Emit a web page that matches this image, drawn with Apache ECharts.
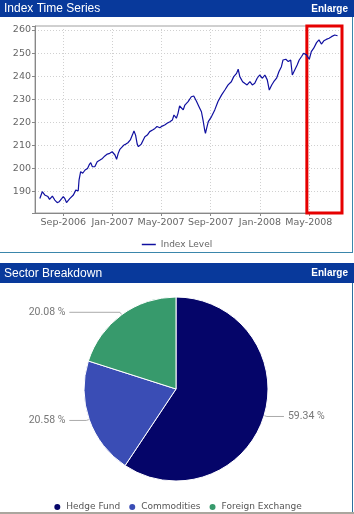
<!DOCTYPE html>
<html>
<head>
<meta charset="utf-8">
<script src="https://cdn.jsdelivr.net/npm/echarts@6/dist/echarts.min.js"></script>
<style>
html,body{margin:0;padding:0;background:#fff;}
#c{width:354px;height:514px;}
</style>
</head>
<body>
<div id="c"></div>
<script>
// ---- Index time series ----
const indexDates = [
'2006-07-05','2006-07-11','2006-07-17','2006-07-25','2006-07-29','2006-08-05','2006-08-11','2006-08-17','2006-08-22','2006-08-28',
'2006-09-01','2006-09-05','2006-09-09','2006-09-13','2006-09-17','2006-09-21','2006-09-26','2006-10-02','2006-10-08','2006-10-10',
'2006-10-14','2006-10-19','2006-10-25','2006-10-31','2006-11-04','2006-11-08','2006-11-12','2006-11-18','2006-11-24','2006-12-01',
'2006-12-07','2006-12-13','2006-12-19','2006-12-25','2006-12-31','2007-01-03','2007-01-07','2007-01-11','2007-01-15','2007-01-19',
'2007-01-23','2007-01-29','2007-02-03','2007-02-08','2007-02-14','2007-02-19','2007-02-23','2007-02-27','2007-03-03','2007-03-06',
'2007-03-09','2007-03-13','2007-03-18','2007-03-22','2007-03-28','2007-04-03','2007-04-10','2007-04-16','2007-04-21','2007-04-28',
'2007-05-04','2007-05-10','2007-05-16','2007-05-23','2007-05-29','2007-06-02','2007-06-08','2007-06-12','2007-06-16','2007-06-25',
'2007-06-29','2007-07-07','2007-07-15','2007-07-21','2007-07-28','2007-08-03','2007-08-09','2007-08-13','2007-08-17','2007-08-19',
'2007-08-22','2007-08-26','2007-09-03','2007-09-11','2007-09-19','2007-09-28','2007-10-06','2007-10-14','2007-10-22','2007-10-28',
'2007-11-04','2007-11-08','2007-11-12','2007-11-19','2007-11-24','2007-11-30','2007-12-07','2007-12-13','2007-12-19','2007-12-25',
'2007-12-31','2008-01-07','2008-01-13','2008-01-19','2008-01-24','2008-01-30','2008-02-04','2008-02-11','2008-02-17','2008-02-23',
'2008-02-27','2008-03-05','2008-03-11','2008-03-17','2008-03-21','2008-03-27','2008-04-02','2008-04-07','2008-04-13','2008-04-18',
'2008-04-25','2008-05-02','2008-05-07','2008-05-13','2008-05-20','2008-05-26','2008-06-01','2008-06-07','2008-06-13','2008-06-20',
'2008-06-26','2008-07-04','2008-07-11'
];
const indexValues = [
187.1,190.0,188.6,187.9,186.7,188.1,186.4,185.3,185.7,187.0,
187.9,187.0,185.3,185.7,187.0,186.4,188.6,190.7,190.4,195.0,
198.7,198.0,199.4,200.1,201.6,202.6,200.8,200.8,203.0,203.7,
204.4,205.5,206.3,206.6,207.3,207.8,205.9,204.0,206.6,208.3,
208.8,210.2,210.6,211.2,212.4,214.5,216.3,214.5,210.6,209.5,
210.2,210.6,212.4,213.8,214.5,216.0,216.7,217.4,218.2,217.7,
218.4,218.9,219.6,220.3,221.0,223.2,221.8,223.9,227.1,225.4,
227.5,229.0,231.1,231.4,229.0,226.8,224.6,221.0,216.7,215.3,
217.5,220.3,222.5,225.4,229.0,231.9,234.0,236.2,237.6,239.8,
241.2,243.0,239.8,237.6,236.9,236.2,237.6,236.2,236.9,239.1,
240.5,239.1,240.5,238.4,234.0,236.2,237.6,239.1,242.0,244.1,
247.0,247.3,246.3,247.0,240.5,242.7,244.8,247.0,248.5,249.9,
249.2,247.3,250.6,252.1,254.5,255.7,253.9,255.3,255.9,256.4,
257.1,257.8,257.5
];
const xTickDates = ['2006-09-01','2007-01-01','2007-05-01','2007-09-01','2008-01-01','2008-05-01'];
const xTickLabels = ['Sep-2006','Jan-2007','May-2007','Sep-2007','Jan-2008','May-2008'];
const yTickLabels = [190,200,210,220,230,240,250,260];
const xRange = ['2006-06-23','2008-07-22'];
const highlightRange = ['2008-04-26','2008-07-22'];

// ---- Sector breakdown ----
const sectorNames = ['Hedge Fund','Commodities','Foreign Exchange'];
const sectorValues = [59.34, 20.58, 20.08];
const sectorColors = ['#050569','#3a4db5','#379a6c'];

function ts(s){ const p=s.split('-'); return Date.UTC(+p[0], +p[1]-1, +p[2]); }
const tickTs = xTickDates.map(ts);
function labelFor(v){
  for (let i=0;i<tickTs.length;i++){ if (Math.abs(tickTs[i]-v) < 3600000) return xTickLabels[i]; }
  return '';
}

const lineData = indexDates.map((d,i)=>[ts(d), indexValues[i]]);

const chart = echarts.init(document.getElementById('c'), null, {renderer:'canvas'});
const headerBlue = '#08399b';
const axisFont = 'DejaVu Sans';

chart.setOption({
  animation:false,
  graphic:[
    {type:'rect', shape:{x:0,y:0,width:354,height:17}, style:{fill:headerBlue}},
    {type:'text', x:4, y:9, style:{text:'Index Time Series', fill:'#fff', font:'12px "Liberation Sans"', textVerticalAlign:'middle'}},
    {type:'text', x:348, y:9, style:{text:'Enlarge', fill:'#fff', font:'bold 10px "Liberation Sans"', textAlign:'right', textVerticalAlign:'middle'}},
    {type:'line', shape:{x1:352.5,y1:17,x2:352.5,y2:253}, style:{stroke:'#3a86ab', lineWidth:1}},
    {type:'line', shape:{x1:0,y1:252.5,x2:353,y2:252.5}, style:{stroke:'#3a86ab', lineWidth:1}},
    {type:'rect', shape:{x:0,y:263,width:354,height:20}, style:{fill:headerBlue}},
    {type:'text', x:4, y:273.5, style:{text:'Sector Breakdown', fill:'#fff', font:'12px "Liberation Sans"', textVerticalAlign:'middle'}},
    {type:'text', x:348, y:273.5, style:{text:'Enlarge', fill:'#fff', font:'bold 10px "Liberation Sans"', textAlign:'right', textVerticalAlign:'middle'}},
    {type:'line', shape:{x1:352.5,y1:283,x2:352.5,y2:512}, style:{stroke:'#2d6e9e', lineWidth:1}},
    {type:'rect', shape:{x:0,y:512,width:354,height:2}, style:{fill:'#aaa69e'}}
  ],
  legend:[
    {
      data:['Index Level'], left:'center', top:235,
      icon:'rect', itemWidth:14, itemHeight:1.5, itemGap:5,
      textStyle:{fontFamily:axisFont, fontSize:9, color:'#666', padding:[1,0,0,0]},
      selectedMode:false
    },
    {
      data:sectorNames, left:'center', top:500, padding:[2,5,2,5],
      icon:'circle', itemWidth:8, itemHeight:8, itemGap:7,
      textStyle:{fontFamily:axisFont, fontSize:9, color:'#555'},
      selectedMode:false
    }
  ],
  grid:{left:35, right:12, top:26, height:187, show:true, borderColor:'#a0a0a0', borderWidth:1, containLabel:false},
  xAxis:{
    type:'value',
    min:ts(xRange[0]), max:ts(xRange[1]),
    axisLine:{lineStyle:{color:'#888'}},
    axisTick:{show:true, customValues:tickTs, length:3, lineStyle:{color:'#888'}},
    axisLabel:{customValues:tickTs, margin:5, fontFamily:axisFont, fontSize:9.5, color:'#666',
      formatter:function(v){ return labelFor(v); }},
    splitLine:{show:true, lineStyle:{color:'#d0d0d0', type:[1,2]}}
  },
  yAxis:{
    type:'value', min:180.8, max:261.7, minInterval:10, maxInterval:10,
    axisLine:{show:true, lineStyle:{color:'#888'}},
    axisTick:{show:true, length:3, lineStyle:{color:'#888'}},
    axisLabel:{margin:4, fontFamily:axisFont, fontSize:9.5, color:'#666',
      formatter:function(v){ return yTickLabels.indexOf(Math.round(v*10)/10)>=0 ? String(v) : ''; }},
    splitLine:{show:true, lineStyle:{color:'#d0d0d0', type:[1,2]}}
  },
  series:[
    {
      name:'Index Level', type:'line', data:lineData, symbol:'none',
      lineStyle:{color:'#1010a0', width:1.2}, itemStyle:{color:'#1010a0'},
      markArea:{
        silent:true,
        itemStyle:{color:'rgba(0,0,0,0)', borderColor:'#e60000', borderWidth:3},
        data:[[{xAxis:ts(highlightRange[0])},{xAxis:ts(highlightRange[1])}]]
      }
    },
    {
      type:'pie', center:[176,389], radius:92, startAngle:90, clockwise:true,
      data:sectorNames.map((n,i)=>({name:n, value:sectorValues[i], itemStyle:{color:sectorColors[i]}})),
      itemStyle:{borderColor:'#fff', borderWidth:1},
      label:{show:true, formatter:function(p){ return p.value.toFixed(2)+' %'; },
        fontFamily:'Roboto', fontSize:10.5, color:'#777', alignTo:'labelLine', distanceToLabelLine:4},
      labelLine:{show:true, length:3, length2:17, lineStyle:{color:'#aaa', width:1}},
      emphasis:{disabled:true}
    }
  ]
});
</script>
</body>
</html>
